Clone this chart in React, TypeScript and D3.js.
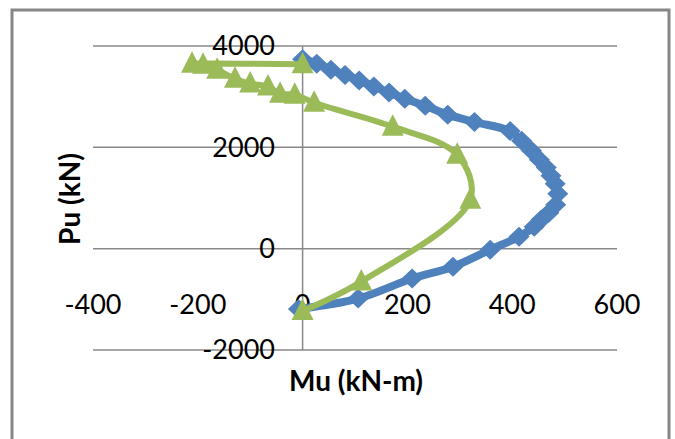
import React from "react";
import * as d3 from "d3";

const xTicks = [-400, -200, 0, 200, 400, 600];
const yTicks = [-2000, 0, 2000, 4000];

const blueM = [0, 27, 54, 81, 108, 136, 165, 195, 234, 277, 328, 396, 418, 437, 452, 465, 474, 482, 487, 483, 470, 455, 442, 413, 358, 287, 209, 106, -8];
const blueP = [3740, 3650, 3530, 3430, 3320, 3200, 3080, 2960, 2820, 2645, 2500, 2320, 2130, 1935, 1755, 1600, 1440, 1283, 1085, 868, 710, 572, 434, 237, -20, -355, -590, -985, -1190];

const greenM = [0, 112, 320, 295, 172, 22, -15, -43, -66, -100, -129, -163, -190, -211, 0];
const greenP = [-1230, -650, 967, 1855, 2408, 2880, 3040, 3060, 3200, 3260, 3355, 3530, 3630, 3650, 3640];

const W = 675;
const H = 439;

export default function App() {
  const x = d3.scaleLinear().domain([-400, 600]).range([93, 617]);
  const y = d3.scaleLinear().domain([-2000, 4000]).range([350, 46]);

  const blue = blueM.map((m, i) => [m, blueP[i]] as [number, number]);
  const green = greenM.map((m, i) => [m, greenP[i]] as [number, number]);

  const line = d3
    .line<[number, number]>()
    .x((d) => x(d[0]))
    .y((d) => y(d[1]))
    .curve(d3.curveCatmullRom.alpha(0.5));

  const diamond = "M0,-10L10.5,0L0,10L-10.5,0Z";
  const triangle = "M0,-12.5L11,9L-11,9Z";
  const font = "Lato, 'Open Sans', sans-serif";

  return (
    <svg
      width={W}
      height={H}
      style={{ position: "absolute", left: 0, top: 0, background: "#fff" }}
    >
      <rect x={0} y={0} width={W} height={H} fill="#fff" />
      <rect x={12} y={10} width={657} height={460} fill="none" stroke="#868686" strokeWidth={3} />
      {yTicks.map((t) => (
        <line key={t} x1={93} x2={617} y1={y(t)} y2={y(t)} stroke="#888" strokeWidth={1.5} />
      ))}
      <line x1={x(0)} x2={x(0)} y1={y(4000)} y2={y(-2000)} stroke="#888" strokeWidth={1.5} />
      {yTicks.map((t) => (
        <text
          key={t}
          x={275}
          y={y(t)}
          dy="0.35em"
          textAnchor="end"
          fontFamily={font}
          fontSize={27}
          fill="#000"
        >
          {t}
        </text>
      ))}
      {xTicks.map((t) => (
        <text
          key={t}
          x={x(t)}
          y={305}
          dy="0.35em"
          textAnchor="middle"
          fontFamily={font}
          fontSize={27}
          fill="#000"
        >
          {t}
        </text>
      ))}
      <path d={line(blue) || ""} fill="none" stroke="#4F81BD" strokeWidth={8} strokeLinejoin="round" />
      {blue.map((d, i) => (
        <path key={i} d={diamond} transform={`translate(${x(d[0])},${y(d[1])})`} fill="#4F81BD" />
      ))}
      <path d={line(green) || ""} fill="none" stroke="#9BBB59" strokeWidth={6} strokeLinejoin="round" />
      {green.map((d, i) => (
        <path key={i} d={triangle} transform={`translate(${x(d[0])},${y(d[1])})`} fill="#9BBB59" />
      ))}
      <text
        x={356}
        y={381}
        dy="0.35em"
        textAnchor="middle"
        fontFamily={font}
        fontWeight="bold"
        fontSize={28}
        fill="#000"
      >
        Mu (kN-m)
      </text>
      <text
        transform="translate(70,199) rotate(-90)"
        dy="0.35em"
        textAnchor="middle"
        fontFamily={font}
        fontWeight="bold"
        fontSize={28}
        fill="#000"
      >
        Pu (kN)
      </text>
    </svg>
  );
}
